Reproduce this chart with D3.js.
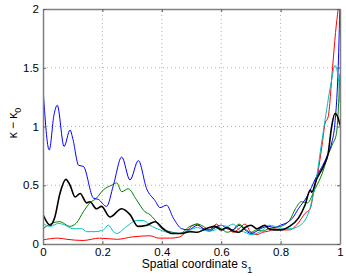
<!DOCTYPE html>
<html><head><meta charset="utf-8">
<script src="https://cdn.jsdelivr.net/npm/d3@7"></script>
<style>body{margin:0;background:#fff}svg{display:block}</style>
</head><body>
<script>
const xTicks = [0, 0.2, 0.4, 0.6, 0.8, 1];
const yTicks = [0, 0.5, 1, 1.5, 2];

const blueS = [0,0.021,0.037,0.048,0.071,0.091,0.10,0.12,0.136,0.17,0.186,0.214,0.237,0.265,0.293,0.321,0.349,0.377,0.394,0.416,0.439,0.467,0.49,0.52,0.54,0.56,0.58,0.60,0.62,0.64,0.66,0.68,0.70,0.72,0.74,0.76,0.78,0.80,0.82,0.84,0.86,0.888,0.92,0.955,0.972,0.983,0.994,1.0];
const blueK = [1.33,0.80,1.10,1.18,0.83,0.97,0.90,0.67,0.66,0.39,0.38,0.32,0.50,0.74,0.545,0.71,0.47,0.37,0.31,0.33,0.22,0.13,0.12,0.16,0.13,0.11,0.14,0.16,0.13,0.12,0.16,0.12,0.09,0.11,0.14,0.15,0.14,0.16,0.18,0.22,0.30,0.40,0.57,0.74,0.86,1.03,1.51,2.05];

const greenS = [0,0.024,0.057,0.09,0.113,0.136,0.158,0.18,0.203,0.231,0.248,0.265,0.287,0.315,0.343,0.36,0.377,0.40,0.428,0.46,0.495,0.52,0.54,0.56,0.58,0.60,0.62,0.64,0.66,0.68,0.70,0.72,0.74,0.76,0.78,0.80,0.83,0.85,0.87,0.89,0.916,0.94,0.96,0.975,0.988,1.0];
const greenK = [0.13,0.17,0.19,0.15,0.18,0.275,0.35,0.39,0.46,0.50,0.52,0.445,0.47,0.375,0.275,0.25,0.205,0.13,0.105,0.09,0.15,0.17,0.15,0.12,0.14,0.13,0.10,0.12,0.17,0.13,0.10,0.12,0.11,0.13,0.14,0.15,0.20,0.30,0.36,0.35,0.47,0.60,0.76,0.85,0.94,1.45];

const redS = [0,0.05,0.08,0.135,0.19,0.25,0.30,0.36,0.39,0.43,0.46,0.48,0.50,0.52,0.54,0.56,0.585,0.60,0.62,0.64,0.66,0.68,0.70,0.72,0.74,0.76,0.78,0.80,0.83,0.86,0.882,0.90,0.91,0.925,0.94,0.95,0.96,0.975,0.985,0.994,1.0];
const redK = [0.035,0.05,0.04,0.03,0.05,0.04,0.06,0.07,0.05,0.05,0.06,0.10,0.15,0.17,0.13,0.12,0.17,0.12,0.14,0.10,0.13,0.17,0.10,0.08,0.10,0.11,0.13,0.12,0.12,0.18,0.26,0.30,0.43,0.60,0.85,1.03,1.08,1.5,1.8,2.0,2.1];

const cyanS = [0,0.024,0.052,0.075,0.10,0.13,0.147,0.175,0.203,0.22,0.237,0.248,0.282,0.315,0.338,0.36,0.394,0.428,0.46,0.495,0.52,0.54,0.56,0.58,0.60,0.62,0.64,0.66,0.68,0.70,0.72,0.74,0.76,0.78,0.80,0.83,0.86,0.893,0.92,0.938,0.95,0.972,0.983,0.994,1.0];
const cyanK = [0.175,0.15,0.175,0.16,0.13,0.13,0.105,0.105,0.12,0.16,0.105,0.09,0.15,0.20,0.20,0.16,0.12,0.095,0.09,0.12,0.14,0.12,0.11,0.12,0.16,0.15,0.17,0.12,0.10,0.08,0.09,0.12,0.16,0.15,0.13,0.13,0.15,0.26,0.55,0.86,1.06,1.40,1.52,1.42,1.2];

const blackS = [0,0.024,0.04,0.057,0.077,0.091,0.108,0.125,0.147,0.158,0.18,0.197,0.225,0.265,0.293,0.32,0.35,0.377,0.405,0.433,0.467,0.495,0.52,0.54,0.56,0.58,0.60,0.62,0.64,0.66,0.68,0.70,0.72,0.747,0.76,0.78,0.80,0.83,0.86,0.882,0.90,0.905,0.92,0.944,0.96,0.972,0.983,0.994,1.0];
const blackK = [0.25,0.16,0.23,0.43,0.55,0.50,0.40,0.43,0.35,0.36,0.30,0.32,0.23,0.30,0.25,0.15,0.16,0.19,0.13,0.09,0.09,0.105,0.10,0.12,0.14,0.15,0.12,0.14,0.11,0.10,0.14,0.16,0.13,0.16,0.13,0.12,0.12,0.15,0.22,0.33,0.46,0.44,0.545,0.66,0.77,1.0,1.11,1.07,1.01];

const series = [
  {s: redS, k: redK, color: "#ff0000", w: 1},
  {s: greenS, k: greenK, color: "#008000", w: 1},
  {s: blueS, k: blueK, color: "#0000ff", w: 1},
  {s: cyanS, k: cyanK, color: "#00bfbf", w: 1},
  {s: blackS, k: blackK, color: "#000000", w: 1.6}
];

const W = 346, H = 276;
const m = {l: 43, r: 6, t: 9, b: 32};
const svg = d3.select("body").append("svg").attr("width", W).attr("height", H)
  .style("font-family", "'Liberation Sans', Arial, sans-serif");
const x = d3.scaleLinear().domain([0, 1]).range([m.l, W - m.r]);
const y = d3.scaleLinear().domain([0, 2]).range([H - m.b, m.t]);

// grid
svg.append("g").selectAll("line").data(xTicks.slice(1, -1)).join("line")
  .attr("x1", d => x(d)).attr("x2", d => x(d)).attr("y1", y(0)).attr("y2", y(2))
  .attr("stroke", "#b0b0b0").attr("stroke-width", 1).attr("stroke-dasharray", "1,3");
svg.append("g").selectAll("line").data(yTicks.slice(1, -1)).join("line")
  .attr("x1", x(0)).attr("x2", x(1)).attr("y1", d => y(d)).attr("y2", d => y(d))
  .attr("stroke", "#b0b0b0").attr("stroke-width", 1).attr("stroke-dasharray", "1,3");

svg.append("clipPath").attr("id", "clip").append("rect")
  .attr("x", x(0)).attr("y", y(2)).attr("width", x(1) - x(0)).attr("height", y(0) - y(2));

const line = d3.line().curve(d3.curveMonotoneX);
const g = svg.append("g").attr("clip-path", "url(#clip)");
series.forEach(sr => {
  const pts = sr.s.map((v, i) => [x(v), y(sr.k[i])]);
  g.append("path").attr("d", line(pts)).attr("fill", "none")
    .attr("stroke", sr.color).attr("stroke-width", sr.w).attr("stroke-linejoin", "round");
});

// axes
const axB = d3.axisBottom(x).tickValues(xTicks).tickFormat(d3.format("")).tickSizeInner(-3).tickSizeOuter(0).tickPadding(4);
const axT = d3.axisTop(x).tickValues(xTicks).tickFormat("").tickSizeInner(-3).tickSizeOuter(0);
const axL = d3.axisLeft(y).tickValues(yTicks).tickFormat(d3.format("")).tickSizeInner(-3).tickSizeOuter(0).tickPadding(4);
const axR = d3.axisRight(y).tickValues(yTicks).tickFormat("").tickSizeInner(-3).tickSizeOuter(0);
const styleAx = sel => {
  sel.selectAll(".domain").attr("stroke", "#808080").attr("stroke-width", 1.5);
  sel.selectAll(".tick line").attr("stroke", "#606060");
  sel.selectAll(".tick text").attr("fill", "#000").style("font-size", "11.5px").style("font-family", "'Liberation Sans', Arial, sans-serif");
};
svg.append("g").attr("transform", `translate(0,${y(0)})`).call(axB).call(styleAx);
svg.append("g").attr("transform", `translate(0,${y(2)})`).call(axT).call(styleAx);
svg.append("g").attr("transform", `translate(${x(0)},0)`).call(axL).call(styleAx);
svg.append("g").attr("transform", `translate(${x(1)},0)`).call(axR).call(styleAx);

// labels
const xl = svg.append("text").attr("x", 197).attr("y", 268)
  .attr("text-anchor", "middle").style("font-size", "12px");
xl.append("tspan").text("Spatial coordinate s");
xl.append("tspan").attr("dy", 5).style("font-size", "9px").text("1");

const yl = svg.append("text").attr("transform", `translate(17,123) rotate(-90)`)
  .attr("text-anchor", "middle").style("font-size", "12px");
yl.append("tspan").text("κ − κ");
yl.append("tspan").attr("dy", 4).style("font-size", "9px").text("0");
</script>
</body></html>
